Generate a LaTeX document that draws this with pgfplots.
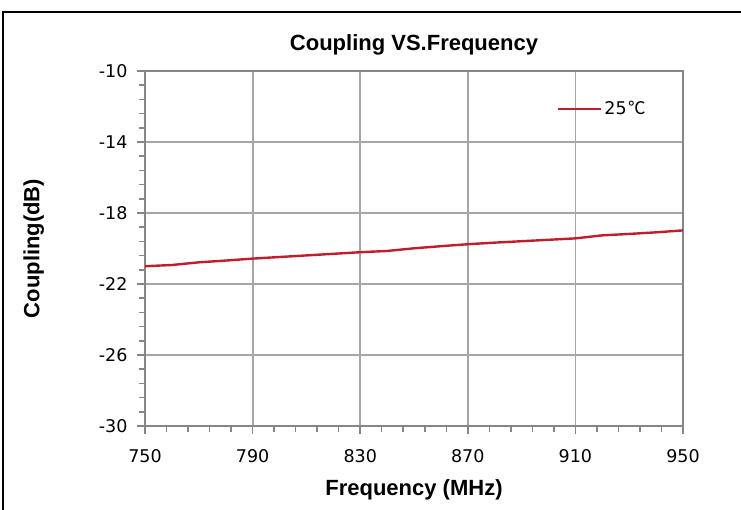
\documentclass[border=0pt]{standalone}
\usepackage{pgfplots}
\pgfplotsset{compat=1.18}
\usepackage{fontspec}
\setmainfont{Liberation Sans}
\newfontfamily\tickfont{DejaVu Sans}
\newfontfamily\cjk{Noto Sans CJK SC}
\definecolor{gridgray}{RGB}{166,166,166}
\definecolor{axisgray}{RGB}{134,134,134}
\definecolor{curvered}{RGB}{192,30,45}

\begin{document}
\begin{tikzpicture}[x=1pt,y=1pt]
\useasboundingbox (0,0) rectangle (741,510);
% outer frame (only top and left visible)
\draw[black, line width=1.3pt] (3,-5) -- (3,498) -- (746,498);
\begin{axis}[
    at={(145pt,84pt)}, anchor=south west,
    width=538pt, height=355pt, scale only axis,
    xmin=750, xmax=950, ymin=-30, ymax=-10,
    xtick={750,790,...,950}, ytick={-30,-26,...,-10},
    minor x tick num=4, minor y tick num=4,
    grid=major,
    major grid style={gridgray, line width=1.8pt},
    axis line style={axisgray, line width=2.4pt},
    tick style={axisgray, line width=1.5pt},
    tick align=outside, tick pos=left,
    major tick length=8pt, minor tick length=6pt,
    /pgf/number format/assume math mode=true,
    /pgf/number format/.cd, 1000 sep={}, /pgfplots/.cd,
    ticklabel style={font=\tickfont\fontsize{17.5}{17.5}\selectfont},
    xticklabel style={yshift=-12pt},
    yticklabel style={xshift=-6pt},
    title={Coupling VS.Frequency},
    title style={at={(0.5,1)}, anchor=south, yshift=6pt,
        font=\bfseries\fontsize{22}{22}\selectfont},
    xlabel={Frequency (MHz)},
    xlabel style={font=\bfseries\fontsize{22}{22}\selectfont, yshift=-10pt},
    ylabel={Coupling(dB)},
    ylabel style={font=\bfseries\fontsize{22}{22}\selectfont, yshift=48pt},
    legend style={draw=none, fill=none, at={(0.76,0.893)}, anchor=west,
        font=\tickfont\fontsize{17.5}{17.5}\selectfont},
    legend image code/.code={\draw[#1] (0pt,0pt) -- (43pt,0pt);},
]
\addplot[curvered, line width=2.4pt] coordinates {
    (750,-21.00) (760,-20.93) (770,-20.78) (780,-20.68) (790,-20.57)
    (800,-20.48) (810,-20.39) (820,-20.30) (830,-20.21) (840,-20.14)
    (850,-19.99) (860,-19.87) (870,-19.76) (880,-19.67) (890,-19.59)
    (900,-19.51) (910,-19.43) (920,-19.26) (930,-19.18) (940,-19.09)
    (950,-18.98)
};
\addlegendentry{25\hspace{2pt}{\cjk ℃}}
\end{axis}
\end{tikzpicture}
\end{document}
